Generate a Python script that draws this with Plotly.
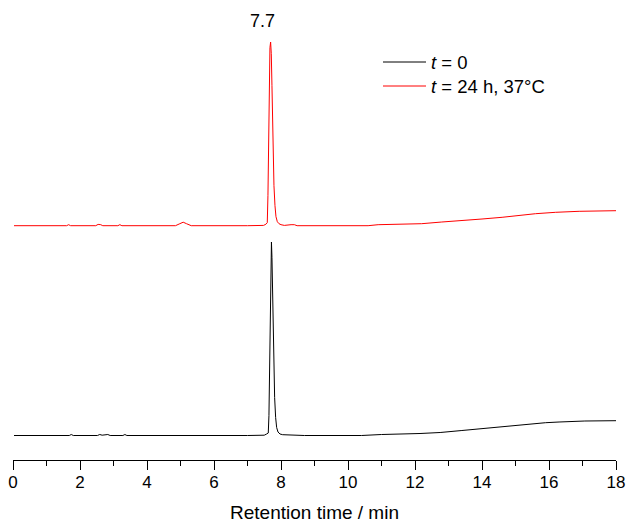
import plotly.graph_objects as go

# ---- data (retention time in min, detector signal in arbitrary units above baseline) ----
T_T0 = [0.03, 1.68, 1.74, 1.80, 2.52, 2.59, 2.66, 2.76, 2.83, 2.90, 3.28, 3.34, 3.40,
        7.00, 7.50, 7.57, 7.62, 7.64, 7.66, 7.68, 7.70, 7.715, 7.73, 7.75, 7.77, 7.79,
        7.81, 7.84, 7.87, 7.91, 7.97, 8.05, 8.20, 8.60, 8.70, 10.40, 11.00, 12.15, 12.75,
        13.40, 14.00, 15.00, 15.90, 16.30, 17.07, 18.00]
S_T0 = [0, 0, 1, 0, 0, 1, 0.3, 0.3, 1, 0, 0, 1, 0,
        0, 0.3, 1.5, 2.5, 20, 80, 140, 180, 193.5, 178, 140, 100, 65,
        38, 18, 8, 3.5, 1.5, 0.8, 0.5, 0.3, 0, 0, 1, 2, 3,
        5, 7, 10, 12.8, 13.5, 14.5, 14.8]

T_T24 = [0.03, 1.60, 1.66, 1.72, 2.47, 2.54, 2.62, 2.68, 3.13, 3.19, 3.25, 4.85, 4.98,
         5.08, 5.18, 5.32, 7.00, 7.48, 7.55, 7.59, 7.61, 7.63, 7.65, 7.67, 7.69, 7.71,
         7.73, 7.75, 7.77, 7.79, 7.82, 7.85, 7.89, 7.94, 8.00, 8.10, 8.30, 8.40, 8.48,
         10.60, 10.90, 12.20, 12.80, 13.60, 14.00, 14.60, 14.90, 15.30, 15.60, 16.20,
         16.90, 18.00]
S_T24 = [0, 0, 1, 0, 0, 1.3, 1, 0, 0, 1, 0, 0, 2,
         3.5, 2, 0, 0, 0.3, 1.5, 3, 30, 95, 150, 178, 183.7, 172,
         140, 100, 65, 40, 20, 9, 4, 2, 1, 0.3, 1, 1, 0,
         0, 1, 2, 3.7, 5.4, 6.7, 8.4, 9.7, 11, 12, 13.4,
         14.4, 15]

STACK_OFFSET = 209.8  # vertical offset of the t = 24 h trace
NAMES = ["t = 0", "t = 24 h, 37°C"]
PEAK_LABEL = "7.7"

W, H = 629, 523
ML, MR, MT, MB = 13, 13, 0, 63
PW, PH = W - ML - MR, H - MT - MB
FONT = "Arial, Liberation Sans, sans-serif"


def px(x):
    """window pixel x -> paper coordinate"""
    return (x - ML) / PW


def py(y):
    """window pixel y -> paper coordinate"""
    return 1 - (y - MT) / PH


fig = go.Figure()
fig.add_trace(go.Scatter(x=T_T0, y=S_T0, mode="lines", name=NAMES[0],
                         line=dict(color="black", width=1), showlegend=False))
fig.add_trace(go.Scatter(x=T_T24, y=[v + STACK_OFFSET for v in S_T24], mode="lines",
                         name=NAMES[1], line=dict(color="#ff0000", width=1),
                         showlegend=False))

# manual legend
shapes = [
    dict(type="line", xref="paper", yref="paper", x0=px(383), x1=px(426),
         y0=py(62), y1=py(62), line=dict(color="black", width=1)),
    dict(type="line", xref="paper", yref="paper", x0=px(383), x1=px(426),
         y0=py(86), y1=py(86), line=dict(color="#ff0000", width=1)),
]
annotations = [
    dict(xref="paper", yref="paper", x=px(429), y=py(62), xanchor="left", yanchor="middle",
         text="<i>t</i> = 0", showarrow=False, font=dict(family=FONT, size=18.5, color="black")),
    dict(xref="paper", yref="paper", x=px(429), y=py(86), xanchor="left", yanchor="middle",
         text="<i>t</i> = 24 h, 37°C", showarrow=False,
         font=dict(family=FONT, size=18.5, color="black")),
    dict(xref="paper", yref="paper", x=px(262), y=py(21), xanchor="center", yanchor="middle",
         text=PEAK_LABEL, showarrow=False, font=dict(family=FONT, size=18, color="black")),
]

fig.update_layout(
    width=W, height=H,
    margin=dict(l=ML, r=MR, t=MT, b=MB, autoexpand=False),
    paper_bgcolor="white", plot_bgcolor="white",
    shapes=shapes, annotations=annotations,
    font=dict(family=FONT, color="black"),
    xaxis=dict(range=[0, 18], dtick=2, tick0=0, showgrid=False, zeroline=False,
               automargin=False,
               showline=True, linecolor="black", linewidth=1.3,
               ticks="outside", ticklen=9, tickwidth=1.3, tickcolor="black",
               ticklabelstandoff=-3, ticklabeloverflow="allow",
               minor=dict(dtick=1, ticks="outside", ticklen=5, tickwidth=1.3,
                          tickcolor="black", showgrid=False),
               tickfont=dict(family=FONT, size=17, color="black"),
               title=dict(text="Retention time / min", standoff=15,
                          font=dict(family=FONT, size=19, color="black"))),
    yaxis=dict(range=[-24.5, 435.5], visible=False, showgrid=False, zeroline=False,
               automargin=False),
)

# remove the default page margin so the 629x523 figure fills the window exactly
fig.write_html("out.html",
               config={"displayModeBar": False},
               post_script="document.body.style.margin='0';"
                           "document.body.style.overflow='hidden';")
